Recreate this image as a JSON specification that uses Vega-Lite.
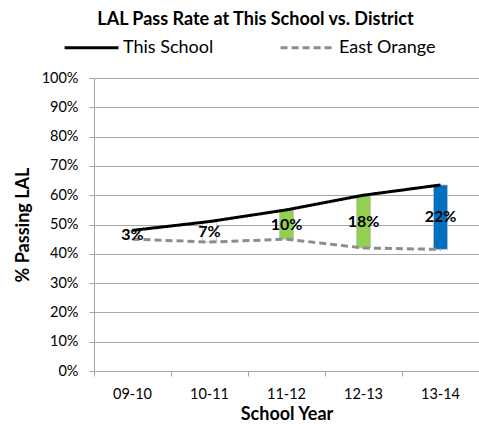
{
  "$schema": "https://vega.github.io/schema/vega-lite/v6.json",
  "width": 385,
  "height": 293,
  "autosize": "none",
  "padding": {"left": 94, "top": 78, "right": 0, "bottom": 57},
  "background": "white",
  "title": {
    "text": "LAL Pass Rate at This School vs. District",
    "font": "Lato",
    "fontSize": 18,
    "fontWeight": "bold",
    "color": "black",
    "anchor": "middle",
    "frame": "group",
    "dx": -31,
    "offset": -10
  },
  "config": {
    "view": {"stroke": null},
    "axisY": {
      "titleFont": "Lato",
      "titleFontSize": 18,
      "titleFontWeight": "bold",
      "titleColor": "black",
      "titlePadding": 9,
      "labelFont": "Lato",
      "labelFontSize": 14.5,
      "labelColor": "black",
      "labelPadding": 11,
      "tickSize": 5,
      "tickColor": "#a6a6a6",
      "domainColor": "#a6a6a6",
      "gridColor": "#a6a6a6",
      "gridWidth": 1
    },
    "legend": {
      "orient": "none",
      "legendX": -31,
      "legendY": -59,
      "direction": "horizontal",
      "symbolType": "stroke",
      "symbolSize": 2900,
      "symbolStrokeWidth": 3,
      "labelFont": "Lato",
      "labelFontSize": 18,
      "labelColor": "black",
      "columnPadding": 60,
      "labelOffset": 3,
      "padding": 0
    }
  },
  "data": {
    "values": [
      {"year": "09-10", "school": 0.48, "district": 0.45, "gap": "3%"},
      {"year": "10-11", "school": 0.51, "district": 0.44, "gap": "7%"},
      {"year": "11-12", "school": 0.55, "district": 0.45, "gap": "10%"},
      {"year": "12-13", "school": 0.60, "district": 0.42, "gap": "18%"},
      {"year": "13-14", "school": 0.635, "district": 0.415, "gap": "22%"}
    ]
  },
  "encoding": {
    "x": {
      "field": "year",
      "type": "nominal",
      "sort": null,
      "scale": {"paddingInner": 0, "paddingOuter": 0},
      "axis": {
        "title": "School Year",
        "titleFont": "Lato",
        "titleFontSize": 18,
        "titleFontWeight": "bold",
        "titleColor": "black",
        "titlePadding": 5,
        "labelAngle": 0,
        "labelFont": "Lato",
        "labelFontSize": 14.5,
        "labelColor": "black",
        "labelPadding": 11,
        "bandPosition": 0,
        "tickSize": 5,
        "tickColor": "#a6a6a6",
        "domainColor": "#a6a6a6",
        "grid": false
      }
    }
  },
  "layer": [
    {
      "mark": {"type": "bar", "size": 14, "stroke": "#bfbfbf", "strokeWidth": 0.8},
      "encoding": {
        "y": {
          "field": "school",
          "type": "quantitative",
          "scale": {"domain": [0, 1]},
          "title": "% Passing LAL",
          "axis": {"values": [0, 0.1, 0.2, 0.3, 0.4, 0.5, 0.6, 0.7, 0.8, 0.9, 1], "format": ".0%"}
        },
        "y2": {"field": "district"},
        "fill": {
          "field": "year",
          "type": "nominal",
          "scale": {
            "domain": ["09-10", "10-11", "11-12", "12-13", "13-14"],
            "range": ["#ffffff", "#ffffff", "#92d050", "#92d050", "#0070c0"]
          },
          "legend": null
        }
      }
    },
    {
      "transform": [{"fold": ["school", "district"], "as": ["series", "v"]}],
      "mark": {"type": "line", "strokeWidth": 3},
      "encoding": {
        "y": {
          "field": "v",
          "type": "quantitative",
          "title": "% Passing LAL",
          "axis": {"values": [0, 0.1, 0.2, 0.3, 0.4, 0.5, 0.6, 0.7, 0.8, 0.9, 1], "format": ".0%"}
        },
        "stroke": {
          "field": "series",
          "type": "nominal",
          "scale": {"domain": ["school", "district"], "range": ["#000000", "#8c8c8c"]},
          "legend": {"title": null, "labelExpr": "datum.label == 'school' ? 'This School' : 'East Orange'"}
        },
        "strokeDash": {
          "field": "series",
          "type": "nominal",
          "scale": {"domain": ["school", "district"], "range": [[1, 0], [7, 4]]},
          "legend": {"title": null, "labelExpr": "datum.label == 'school' ? 'This School' : 'East Orange'"}
        }
      }
    },
    {
      "transform": [
        {"fold": ["school", "district"], "as": ["series", "v"]},
        {"aggregate": [{"op": "mean", "field": "v", "as": "mid"}], "groupby": ["year", "gap"]}
      ],
      "mark": {"type": "text", "font": "Lato", "fontSize": 16, "fontWeight": "bold", "color": "black", "baseline": "middle"},
      "encoding": {
        "y": {
          "field": "mid",
          "type": "quantitative",
          "title": "% Passing LAL",
          "axis": {"values": [0, 0.1, 0.2, 0.3, 0.4, 0.5, 0.6, 0.7, 0.8, 0.9, 1], "format": ".0%"}
        },
        "text": {"field": "gap", "type": "nominal"}
      }
    }
  ]
}
